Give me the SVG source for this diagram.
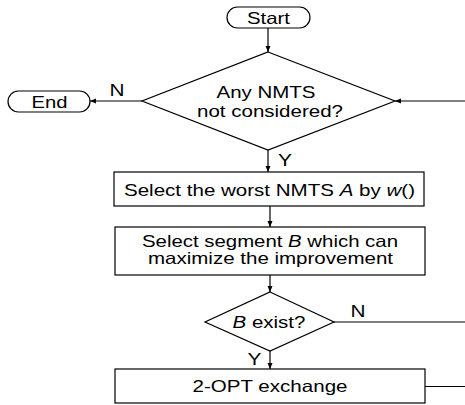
<svg xmlns="http://www.w3.org/2000/svg" width="465" height="405" viewBox="0 0 465 405">
<defs>
<marker id="ah" markerWidth="6" markerHeight="6" refX="6" refY="3" orient="auto" markerUnits="userSpaceOnUse">
<path d="M0,0.5 L6,3 L0,5.5 Z" fill="#000"/>
</marker>
<style>
.s{fill:#fff;stroke:#000;stroke-width:1.2}
.t{font-family:"Liberation Sans",Arial,sans-serif;font-size:16.5px;fill:#000;text-anchor:middle}
.l{fill:none;stroke:#000;stroke-width:1.2}
.a{fill:none;stroke:#000;stroke-width:1.2;marker-end:url(#ah)}
</style>
</defs>
<rect width="465" height="405" fill="#fff"/>
<g id="connectors">
<line class="a" x1="268" y1="28" x2="268" y2="52"/>
<line class="a" x1="142" y1="101" x2="90" y2="101"/>
<line class="a" x1="465" y1="101" x2="395" y2="101"/>
<line class="a" x1="268" y1="150" x2="268" y2="172"/>
<line class="a" x1="270" y1="206" x2="270" y2="227"/>
<line class="a" x1="270" y1="275" x2="270" y2="292"/>
<line class="l" x1="334" y1="322" x2="465" y2="322"/>
<line class="a" x1="270" y1="351" x2="270" y2="369"/>
<line class="l" x1="425" y1="386.5" x2="465" y2="386.5"/>
<text class="t" x="117" y="96" textLength="15" lengthAdjust="spacingAndGlyphs">N</text>
<text class="t" x="285" y="166" textLength="14" lengthAdjust="spacingAndGlyphs">Y</text>
<text class="t" x="358" y="317" textLength="15" lengthAdjust="spacingAndGlyphs">N</text>
<text class="t" x="254.5" y="365" textLength="14" lengthAdjust="spacingAndGlyphs">Y</text>
</g>
<g id="start">
<rect class="s" x="227" y="7" width="83" height="21" rx="10.5"/>
<text class="t" x="268.5" y="24" textLength="43" lengthAdjust="spacingAndGlyphs">Start</text>
</g>
<g id="end">
<rect class="s" x="8" y="91" width="82" height="21" rx="10.5"/>
<text class="t" x="49.5" y="108" textLength="36" lengthAdjust="spacingAndGlyphs">End</text>
</g>
<g id="decision1">
<polygon class="s" points="268,52 395,101 268,150 142,101"/>
<text class="t" x="266" y="98.3" textLength="99" lengthAdjust="spacingAndGlyphs">Any NMTS</text>
<text class="t" x="270" y="116.7" textLength="146" lengthAdjust="spacingAndGlyphs">not considered?</text>
</g>
<g id="select-a">
<rect class="s" x="114" y="172" width="310" height="34"/>
<text class="t" x="269.5" y="195.5" textLength="291" lengthAdjust="spacingAndGlyphs">Select the worst NMTS <tspan font-style="italic">A</tspan> by <tspan font-style="italic">w</tspan>()</text>
</g>
<g id="select-b">
<rect class="s" x="115" y="227" width="310" height="48"/>
<text class="t" x="270" y="246.7" textLength="256" lengthAdjust="spacingAndGlyphs">Select segment <tspan font-style="italic">B</tspan> which can</text>
<text class="t" x="270.5" y="264" textLength="245" lengthAdjust="spacingAndGlyphs">maximize the improvement</text>
</g>
<g id="decision2">
<polygon class="s" points="270,292 334,322 270,351 205,322"/>
<text class="t" x="269" y="328" textLength="73" lengthAdjust="spacingAndGlyphs"><tspan font-style="italic">B</tspan> exist?</text>
</g>
<g id="exchange">
<rect class="s" x="115" y="369" width="310" height="34"/>
<text class="t" x="270" y="391.5" textLength="155" lengthAdjust="spacingAndGlyphs">2-OPT exchange</text>
</g>
</svg>
